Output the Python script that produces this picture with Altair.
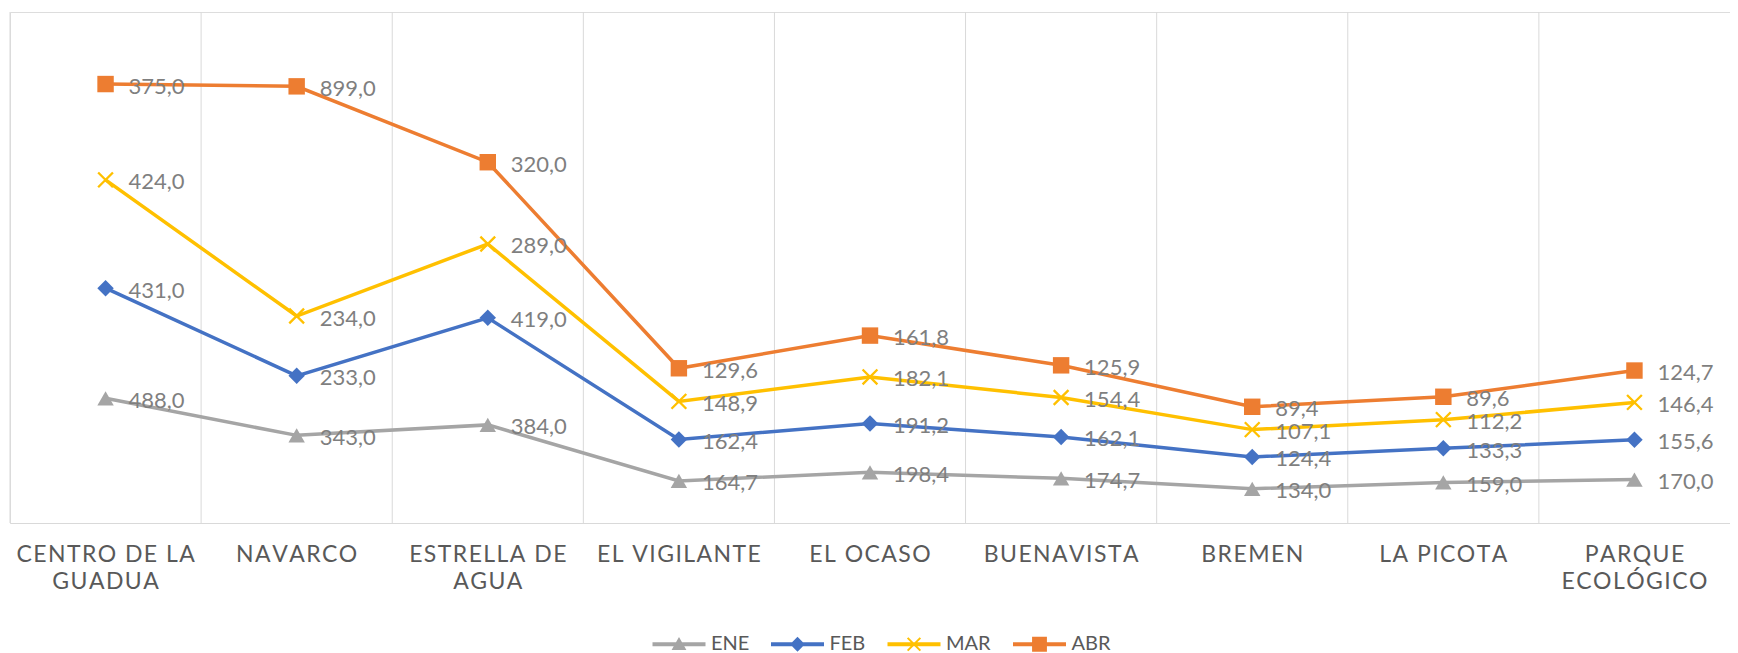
import altair as alt
import pandas as pd

sites = ["CENTRO DE LA GUADUA", "NAVARCO", "ESTRELLA DE AGUA", "EL VIGILANTE",
         "EL OCASO", "BUENAVISTA", "BREMEN", "LA PICOTA", "PARQUE ECOLÓGICO"]
site_lines = {
    "CENTRO DE LA GUADUA": ["CENTRO DE LA", "GUADUA"],
    "ESTRELLA DE AGUA": ["ESTRELLA DE", "AGUA"],
    "PARQUE ECOLÓGICO": ["PARQUE", "ECOLÓGICO"],
}
months = ["ENE", "FEB", "MAR", "ABR"]
ene = [488.0, 343.0, 384.0, 164.7, 198.4, 174.7, 134.0, 159.0, 170.0]
feb = [431.0, 233.0, 419.0, 162.4, 191.2, 162.1, 124.4, 133.3, 155.6]
mar = [424.0, 234.0, 289.0, 148.9, 182.1, 154.4, 107.1, 112.2, 146.4]
abr = [375.0, 899.0, 320.0, 129.6, 161.8, 125.9, 89.4, 89.6, 124.7]
colors = ["#a5a5a5", "#4472c4", "#ffc000", "#ed7d31"]

series = {"ENE": ene, "FEB": feb, "MAR": mar, "ABR": abr}
rows = []
for k, m in enumerate(months):
    for s, v in zip(sites, series[m]):
        rows.append({"site": s, "month": m, "order": k, "value": v,
                     "lbl": f"{v:.1f}".replace(".", ",")})
df = pd.DataFrame(rows)

FONT = "Lato"
W, H = 1720, 511
HAIR = "\u200a"

# multi-line, letter-spaced axis labels
parts = []
for name in sites:
    lines = site_lines.get(name, [name])
    arr = "[" + ",".join("'" + HAIR.join(l) + "'" for l in lines) + "]"
    parts.append(f"datum.label === '{name}' ? {arr} : ")
label_expr = "".join(parts) + "datum.label"

# data marker shapes
X_PATH = ("M-0.8,-1L1,0.8L0.8,1L-1,-0.8Z"
          "M-0.8,1L-1,0.8L0.8,-1L1,-0.8Z")
point_shapes = ["triangle-up", "diamond", X_PATH, "square"]

# legend symbols: line segment + marker (unit = half of the 53px symbol)
line_p = "M-1,-0.075H1V0.075H-1Z"
legend_paths = [
    line_p + "M0,-0.27L0.28,0.22H-0.28Z",
    line_p + "M0,-0.28L0.28,0L0,0.28L-0.28,0Z",
    line_p + "M-0.213,-0.267L0.267,0.213L0.213,0.267L-0.267,-0.213Z"
             "M-0.213,0.267L-0.267,0.213L0.213,-0.267L0.267,-0.213Z",
    line_p + "M-0.28,-0.28H0.28V0.28H-0.28Z",
]

legend = alt.Legend(
    title=None, orient="none", legendX=642.5, legendY=605.5, direction="horizontal",
    labelFont=FONT, labelFontSize=20, labelColor="#595959", symbolSize=2809,
    symbolStrokeWidth=0, labelOffset=5.5, columnPadding=21.5, padding=0, symbolOpacity=1)

xenc = alt.X("site:N", sort=sites, bandPosition=0.5,
             scale=alt.Scale(type="band", paddingInner=0, paddingOuter=0),
             axis=alt.Axis(title=None, labelAngle=0, labelAlign="center", labelBaseline="top",
                           labelFont=FONT, labelFontSize=23,
                           labelColor="#595959", labelPadding=20, labelLineHeight=27,
                           ticks=False, grid=False, domainColor="#d9d9d9", domainWidth=1,
                           labelExpr=label_expr, labelLimit=0, labelOverlap=False))
yenc = alt.Y("y1:Q", scale=alt.Scale(domain=[0, 2000], nice=False), axis=None)

base = alt.Chart(df).transform_stack(
    stack="value", groupby=["site"], as_=["y0", "y1"],
    sort=[alt.SortField("order", order="ascending")])

grid = alt.Chart(pd.DataFrame({"site": sites})).mark_rule(color="#d9d9d9", strokeWidth=1).encode(
    x=alt.X("site:N", sort=sites, bandPosition=0),
    y=alt.value(0), y2=alt.value(H))

line_layers, point_layers = [], []
for m, c, shp in zip(months, colors, point_shapes):
    sub = base.transform_filter(alt.datum.month == m)
    line_layers.append(sub.mark_line(strokeWidth=3.5, color=c).encode(x=xenc, y=yenc))
    point_layers.append(sub.mark_point(filled=True, size=270, opacity=1, shape=shp, color=c)
                        .encode(x=xenc, y=yenc))

# legend-only layer (marks invisible)
legend_layer = base.mark_point(filled=True, opacity=0, size=10).encode(
    x=xenc, y=yenc,
    color=alt.Color("month:N", scale=alt.Scale(domain=months, range=colors), legend=legend),
    shape=alt.Shape("month:N", scale=alt.Scale(domain=months, range=legend_paths), legend=legend))

labels = base.mark_text(align="left", baseline="middle", dx=23, dy=2.5, fontSize=22, font=FONT,
                        color="#7f7f7f").encode(x=xenc, y=yenc, text="lbl:N")

chart = alt.layer(grid, *line_layers, *point_layers, labels, legend_layer).properties(
    width=W, height=H, autosize="none",
    padding={"left": 2, "top": 4, "right": 0, "bottom": 130},
).configure_view(stroke=None).configure(background="white")

chart.save("out.html", embed_options={"renderer": "svg", "actions": False})
